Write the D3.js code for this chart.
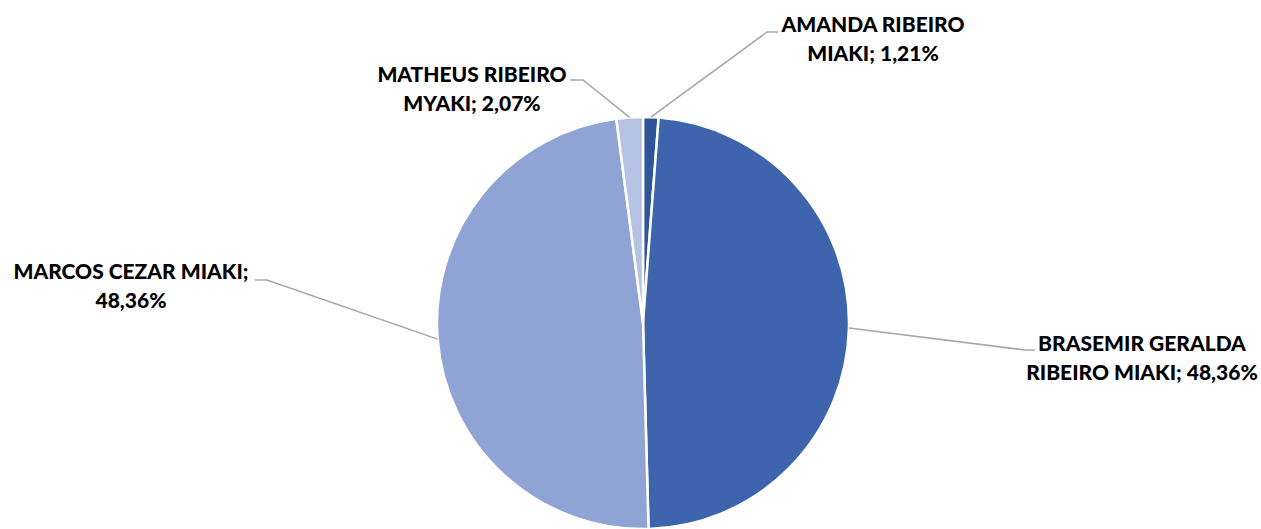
<!DOCTYPE html>
<html>
<head>
<meta charset="utf-8">
<script src="https://cdn.jsdelivr.net/npm/d3@7"></script>
<style>
  html, body { margin: 0; padding: 0; background: #fff; }
  svg { display: block; }
  .lbl { font-family: Lato, "Open Sans", sans-serif; font-weight: 900; font-size: 21px; fill: #000; }
</style>
</head>
<body>
<svg id="chart" width="1261" height="529"></svg>
<script>
const names = ["AMANDA RIBEIRO MIAKI", "BRASEMIR GERALDA RIBEIRO MIAKI", "MARCOS CEZAR MIAKI", "MATHEUS RIBEIRO MYAKI"]
const values = [1.21, 48.36, 48.36, 2.07]
const colors = ["#2F5597", "#3D64AD", "#8FA4D4", "#B4C2E4"]
// how each label is broken into lines, as in the picture
const labelLines = [
  ["AMANDA RIBEIRO", "MIAKI; 1,21%"],
  ["BRASEMIR GERALDA", "RIBEIRO MIAKI; 48,36%"],
  ["MARCOS CEZAR MIAKI;", "48,36%"],
  ["MATHEUS RIBEIRO", "MYAKI; 2,07%"]
]

const cx = 643, cy = 323, r = 206
// label anchor (text centre x, first baseline y) and leader elbow / end
const labelPos = [
  { x: 873, y: 32, elbow: [767, 32], end: [778, 32] },
  { x: 1142, y: 351, elbow: [1025, 350], end: [1035, 350] },
  { x: 131, y: 279, elbow: [267, 280], end: [255, 280] },
  { x: 472, y: 82, elbow: [583, 80], end: [570, 80] }
]

const svg = d3.select("#chart")
const g = svg.append("g").attr("transform", `translate(${cx},${cy})`)

const pie = d3.pie().sort(null).value(d => d)
const arcs = pie(values)
const arc = d3.arc().innerRadius(0).outerRadius(r)

g.selectAll("path.slice")
  .data(arcs)
  .enter()
  .append("path")
  .attr("class", "slice")
  .attr("d", arc)
  .style("fill", (d, i) => colors[i])
  .style("stroke", "#fff")
  .style("stroke-width", "2.5px")
  .style("stroke-linejoin", "round")

// leader lines: slice edge at mid angle -> elbow -> end
const edgePoint = d => {
  let a = (d.startAngle + d.endAngle) / 2
  return [cx + r * Math.sin(a), cy - r * Math.cos(a)]
}

svg.selectAll("polyline.leader")
  .data(arcs)
  .enter()
  .append("polyline")
  .attr("class", "leader")
  .attr("points", (d, i) => [edgePoint(d), labelPos[i].elbow, labelPos[i].end].map(p => p.join(",")).join(" "))
  .style("fill", "none")
  .style("stroke", "#A6A6A6")
  .style("stroke-width", "1.5px")

const labels = svg.selectAll("text.lbl")
  .data(arcs)
  .enter()
  .append("text")
  .attr("class", "lbl")
  .attr("text-anchor", "middle")

labels.each(function (d, i) {
  let t = d3.select(this)
  labelLines[i].forEach((line, k) => {
    t.append("tspan")
      .attr("x", labelPos[i].x)
      .attr("y", labelPos[i].y + k * 29)
      .text(line)
  })
})
</script>
</body>
</html>
